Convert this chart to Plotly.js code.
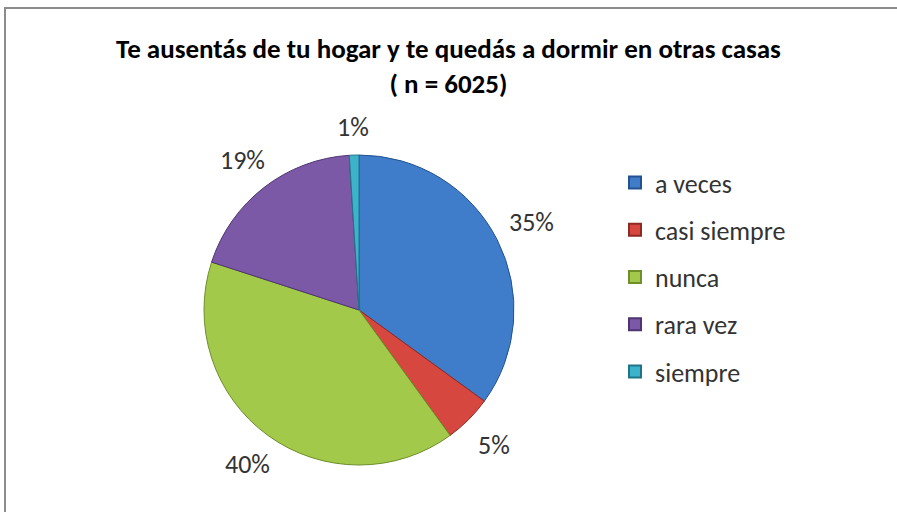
<!DOCTYPE html>
<html>
<head>
<meta charset="utf-8">
<script src="https://cdn.plot.ly/plotly-3.0.1.min.js"></script>
<style>html,body{margin:0;padding:0;background:#fff;}#chart{width:897px;height:512px;}</style>
</head>
<body>
<div id="chart"></div>
<script>
const categories = ["a veces", "casi siempre", "nunca", "rara vez", "siempre"];
const percents = [35, 5, 40, 19, 1];
const colors = ["#3F7DCB", "#D5473F", "#A3C94B", "#7B59A6", "#3DB2CB"];
const edgeColors = ["#24528F", "#8E2A24", "#6E8F2A", "#4E3572", "#1F7488"];
const titleText = "<b>Te ausentás de tu hogar y te quedás a dormir en otras casas<br>( n = 6025)</b>";

const FONT = "Carlito, Calibri, Lato, 'Open Sans', sans-serif";
const W = 897, H = 512;
const pieDomX = [204 / W, 514 / W];
const pieDomY = [1 - 465 / H, 1 - 155 / H];

const traces = [{
  type: "pie",
  labels: categories,
  values: percents,
  sort: false,
  direction: "clockwise",
  rotation: 0,
  textinfo: "none",
  hoverinfo: "label+percent",
  showlegend: false,
  marker: { colors: colors, line: { color: edgeColors, width: 1 } },
  domain: { x: pieDomX, y: pieDomY }
}];

categories.forEach((c, i) => {
  traces.push({
    type: "scatter", mode: "markers", x: [null], y: [null],
    name: c, legendgroup: "g" + i, showlegend: true,
    marker: { symbol: "square", size: 10, color: colors[i], line: { color: edgeColors[i], width: 1 } },
    hoverinfo: "skip"
  });
});

// label annotations from data (angle of each slice middle)
const total = percents.reduce((a, b) => a + b, 0);
const cx = (pieDomX[0] + pieDomX[1]) / 2 * W;
const cy = (1 - (pieDomY[0] + pieDomY[1]) / 2) * H;
const R = (pieDomX[1] - pieDomX[0]) * W / 2;
const annotations = [];
let cum = 0;
percents.forEach((v, i) => {
  const mid = (cum + v / 2) / total * 2 * Math.PI;
  cum += v;
  const rr = R + 28 + 12 * Math.abs(Math.sin(mid));
  const px = cx + rr * Math.sin(mid);
  const py = cy - rr * Math.cos(mid);
  annotations.push({
    xref: "paper", yref: "paper", x: px / W, y: 1 - py / H,
    text: Math.round(v / total * 100) + "%", showarrow: false,
    xanchor: "center", yanchor: "middle",
    font: { family: FONT, size: 26, color: "#333333" }
  });
});

const layout = {
  width: W, height: H,
  margin: { l: 0, r: 0, t: 0, b: 0 },
  paper_bgcolor: "#ffffff", plot_bgcolor: "rgba(0,0,0,0)",
  title: {
    text: titleText, x: 0.5, xanchor: "center", xref: "paper",
    y: 1 - 58 / H, yanchor: "top", yref: "container",
    font: { family: FONT, size: 27, color: "#000000" }
  },
  xaxis: { visible: false, domain: [0.99, 1] },
  yaxis: { visible: false, domain: [0.99, 1] },
  showlegend: true,
  legend: {
    x: 615 / W, y: 1 - 159 / H, xanchor: "left", yanchor: "top",
    font: { family: FONT, size: 26, color: "#333333" },
    tracegroupgap: 10.5, itemsizing: "constant", traceorder: "grouped",
    itemwidth: 30,
    bgcolor: "rgba(0,0,0,0)"
  },
  annotations: annotations,
  shapes: [{
    type: "rect", xref: "paper", yref: "paper",
    x0: 5 / W, x1: 1.02, y0: -0.02, y1: 1 - 8 / H,
    line: { color: "#8c8c8c", width: 2 }, fillcolor: "rgba(0,0,0,0)"
  }]
};

Plotly.newPlot("chart", traces, layout, { displayModeBar: false, staticPlot: true });
</script>
</body>
</html>
